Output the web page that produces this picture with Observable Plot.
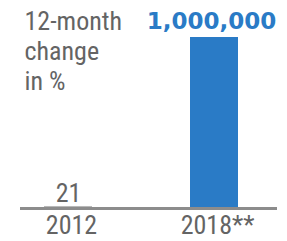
<!DOCTYPE html>
<html>
<head>
<meta charset="utf-8">
<script src="https://cdn.jsdelivr.net/npm/d3@7"></script>
<script src="https://cdn.jsdelivr.net/npm/@observablehq/plot@0.6"></script>
<style>
  html, body { margin: 0; padding: 0; background: #fff; }
  svg { display: block; }
</style>
</head>
<body>
<div id="chart"></div>
<script>
const categories = ["2012", "2018**"];
const values = [21, 1000000];
const valueLabels = ["21", "1,000,000"];
const axisTitle = "12-month\nchange\nin %";

const data = categories.map((c, i) => ({category: c, value: values[i], label: valueLabels[i]}));

const narrow = "'Roboto Condensed', 'Open Sans', sans-serif";
const gray = "#646464";
const blue = "#2a7bc6";

const chart = Plot.plot({
  width: 287,
  height: 241,
  marginTop: 37,
  marginBottom: 33,
  marginLeft: 20,
  marginRight: 10,
  style: {fontFamily: narrow, background: "#fff"},
  x: {domain: categories, paddingInner: 0.673, paddingOuter: 0.211, align: 0.387},
  y: {domain: [0, 1000000], axis: null},
  marks: [
    Plot.barY(data, {x: "category", y: "value", fill: blue}),
    Plot.tickY(data.filter(d => d.category === "2012"), {x: "category", y: "value", stroke: "#b8b8b8", strokeWidth: 1, dy: -2}),
    Plot.ruleY([0], {stroke: "#8c8c8c", strokeWidth: 3}),
    Plot.text(data.filter(d => d.category === "2012"), {x: "category", y: "value", text: "label", fill: gray, fontSize: 26, lineAnchor: "bottom", dy: -6}),
    Plot.text(data.filter(d => d.category !== "2012"), {x: "category", y: "value", text: "label", fill: blue, fontSize: 23, fontWeight: "bold", fontFamily: "'DejaVu Sans', sans-serif", lineAnchor: "bottom", dx: -3, dy: -9}),
    Plot.text([axisTitle], {frameAnchor: "top-left", textAnchor: "start", lineAnchor: "top", fill: gray, fontSize: 26, lineHeight: 1.16, dx: 4, dy: -29}),
    Plot.axisX({tickSize: 0, tickPadding: 7, fontSize: 26, color: gray, fill: gray, label: null, dx: 3})
  ]
});
document.getElementById("chart").appendChild(chart);
</script>
</body>
</html>
